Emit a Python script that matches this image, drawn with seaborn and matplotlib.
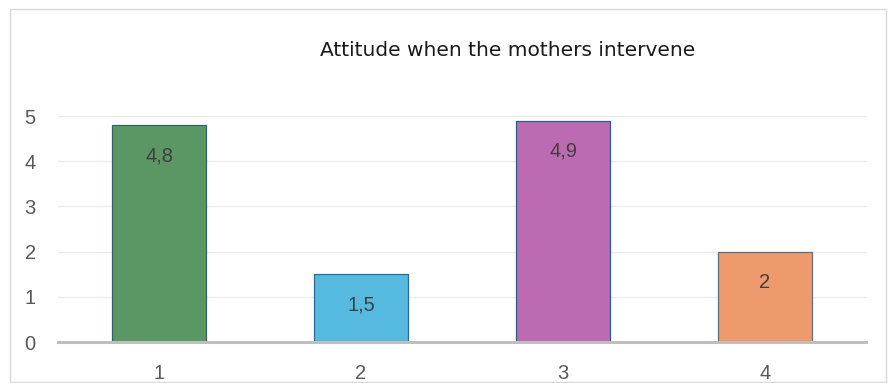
import matplotlib
matplotlib.use("Agg")
import matplotlib.pyplot as plt
import seaborn as sns
import pandas as pd
from matplotlib.patches import Rectangle

# --------------------------
# DATA
# --------------------------
categories = ["1", "2", "3", "4"]
values = [4.8, 1.5, 4.9, 2.0]
value_labels = ["4,8", "1,5", "4,9", "2"]
colors = ["#5B9764", "#56B9E0", "#BC6AB1", "#EE9A6C"]
edge_colors = ["#2F6468", "#2A6A98", "#2F5A8C", "#5F6F7F"]
title = "Attitude when the mothers intervene"

df = pd.DataFrame({"category": categories, "value": values})

sns.set_style("white")
plt.rcParams["font.family"] = ["Liberation Sans", "DejaVu Sans"]

fig = plt.figure(figsize=(8.89, 3.83), dpi=100)
ax = fig.add_axes([58 / 889, 1 - 342 / 383, (866 - 58) / 889, (342 - 116) / 383])

sns.barplot(
    data=df,
    x="category",
    y="value",
    hue="category",
    palette=colors,
    saturation=1,
    legend=False,
    width=0.465,
    ax=ax,
)

for patch, ec in zip(ax.patches, edge_colors):
    patch.set_edgecolor(ec)
    patch.set_linewidth(0.9)

# value labels just inside the top of each bar
for i, (v, lab) in enumerate(zip(values, value_labels)):
    ax.annotate(lab, (i, v), xytext=(0, -22), textcoords="offset points",
                ha="center", va="center", fontsize=14.5, color="#404040")

ax.set_ylim(0, 5)
ax.set_xlim(-0.5, 3.5)
ax.set_yticks([0, 1, 2, 3, 4, 5])
ax.yaxis.grid(True, color="#EBEBEB", linewidth=1.0)
ax.set_axisbelow(True)
for gl in ax.get_ygridlines():
    gl.set_clip_on(False)

for s in ["top", "right", "left"]:
    ax.spines[s].set_visible(False)
ax.spines["bottom"].set_color("#BFBFBF")
ax.spines["bottom"].set_linewidth(2.2)

ax.tick_params(axis="both", length=0, labelsize=14.5, labelcolor="#595959")
ax.tick_params(axis="y", pad=16)
ax.tick_params(axis="x", pad=16)
ax.set_xlabel("")
ax.set_ylabel("")

fig.text(508 / 889, 1 - 50 / 383, title, ha="center", va="center",
         fontsize=14.5, color="#1A1A1A", family=["DejaVu Sans"])

# chart frame
fig.patches.append(Rectangle((10 / 889, 1 / 383), 876 / 889, (374 - 1) / 383,
                             transform=fig.transFigure, fill=False,
                             edgecolor="#D9D9D9", linewidth=1.0))

fig.savefig("out.png", dpi=100)
